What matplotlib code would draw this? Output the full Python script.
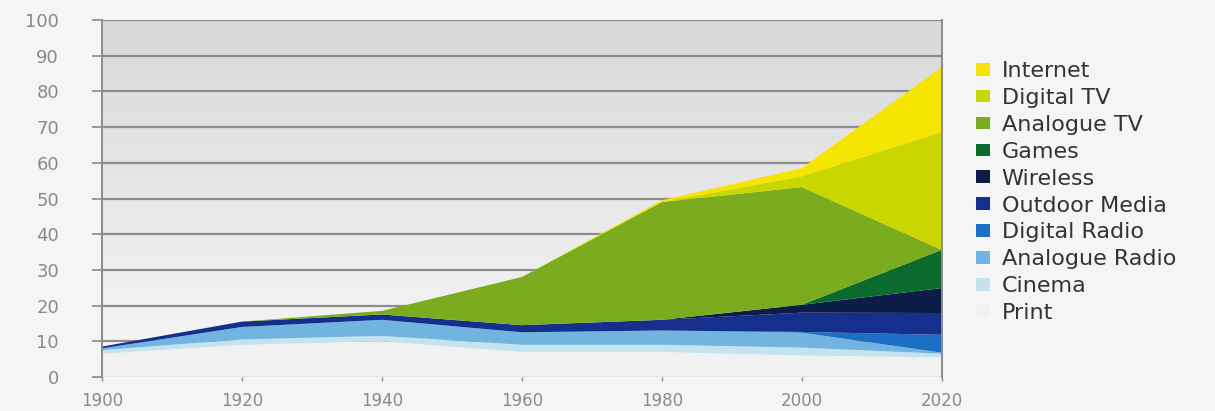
import numpy as np
import matplotlib.pyplot as plt
from matplotlib.patches import Patch

years = [1900, 1920, 1940, 1960, 1980, 2000, 2020]

# bottom to top
print_ = [6.5, 9.0, 10.0, 7.0, 7.0, 6.0, 5.5]
cinema = [1.0, 1.5, 1.5, 2.0, 2.0, 2.2, 1.0]
analogue_radio = [0.5, 3.5, 4.5, 3.5, 4.0, 4.2, 0.3]
digital_radio = [0, 0, 0, 0, 0, 0.2, 5.0]
outdoor_media = [0.5, 1.5, 1.5, 2.0, 3.0, 5.4, 6.1]
wireless = [0, 0, 0, 0, 0, 2.2, 7.0]
games = [0, 0, 0, 0, 0, 0, 10.7]
analogue_tv = [0, 0, 1.0, 13.5, 33.0, 33.0, 0]
digital_tv = [0, 0, 0, 0, 0, 3.0, 33.0]
internet = [0, 0, 0, 0, 0.5, 2.3, 18.2]

labels = ['Print', 'Cinema', 'Analogue Radio', 'Digital Radio', 'Outdoor Media',
          'Wireless', 'Games', 'Analogue TV', 'Digital TV', 'Internet']
colors = ['#f1f1f1', '#c4e3ee', '#72b4e0', '#1c6fc4', '#142f8c',
          '#0e1c48', '#0c6a2f', '#7bab1f', '#c9d600', '#f6e500']

fig = plt.figure(figsize=(12.15, 4.11), dpi=100, facecolor='#f5f5f5')
ax = fig.add_axes([0.084, 0.083, 0.691, 0.868])

# vertical gray gradient behind the plot
grad = np.linspace(0, 1, 256).reshape(-1, 1)
ax.imshow(grad, extent=[1900, 2020, 0, 100], aspect='auto', origin='lower',
          cmap=plt.matplotlib.colors.LinearSegmentedColormap.from_list(
              'bg', ['#f7f7f7', '#d9d9d9']), zorder=0)

for v in range(0, 101, 10):
    ax.axhline(v, color='#8c8c8c', lw=1.6, zorder=1)

ax.stackplot(years, print_, cinema, analogue_radio, digital_radio, outdoor_media,
             wireless, games, analogue_tv, digital_tv, internet,
             colors=colors, lw=0, zorder=2)

ax.set_xlim(1900, 2020)
ax.set_ylim(0, 100)
ax.set_xticks(years)
ax.set_yticks(range(0, 101, 10))
for s in ['top', 'bottom']:
    ax.spines[s].set_visible(False)
for s in ['left', 'right']:
    ax.spines[s].set_color('#8c8c8c')
    ax.spines[s].set_linewidth(1.4)
ax.tick_params(axis='y', length=7, width=1.2, color='#8c8c8c', pad=24,
               labelsize=13, labelcolor='#8a8a8a')
ax.tick_params(axis='x', length=3, width=1, color='#8c8c8c', pad=8,
               labelsize=12, labelcolor='#8a8a8a')

handles = [Patch(facecolor=c, edgecolor='none') for c in colors][::-1]
fig.legend(handles, labels[::-1], loc='upper left', bbox_to_anchor=(0.787, 0.9),
           frameon=False, fontsize=16, labelcolor='#333333',
           handlelength=0.6, handleheight=0.5, handletextpad=0.55,
           labelspacing=0.31)

plt.savefig('out.png', dpi=100, facecolor=fig.get_facecolor())
